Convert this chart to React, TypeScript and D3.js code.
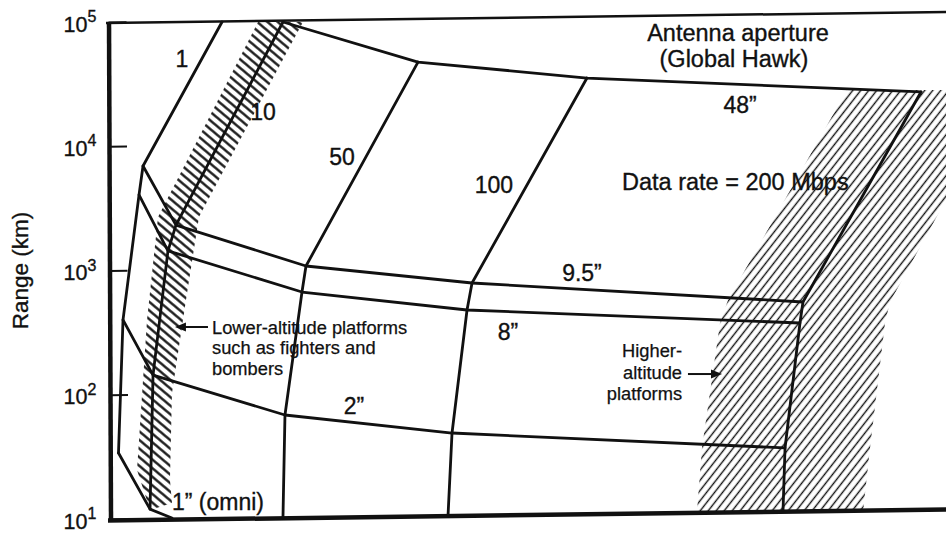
import React, { useEffect, useRef } from "react";
import * as d3 from "d3";

// y: range (km); x: unlabeled position across the diagram (arbitrary units 0-100)
const yTicks = [10, 100, 1000, 10000, 100000];
const yExps = ["1", "2", "3", "4", "5"];

// data-rate curves (Mbps)
const rate1 = [[13.19, 100000], [3.72, 6930], [3.24, 4060], [1.32, 400], [0.78, 34]];
const rate10 = [[20.5, 100000], [7.67, 2320], [6.71, 1440], [4.92, 144], [4.56, 12]];
const rate50 = [[36.69, 47600], [23.26, 1087], [22.78, 671], [20.74, 68.7], [20.5, 10.2]];
const rate100 = [[56.95, 35400], [43.17, 793], [42.57, 481], [40.77, 49.2], [40.29, 10.6]];
const rate200 = [[97.0, 27350], [82.85, 558], [82.49, 378], [80.7, 37.3], [80.46, 11.8]];

// antenna-aperture curves
const ap48 = [[20.5, 100000], [36.69, 47600], [56.95, 35400], [97.0, 27350]];
const ap95 = [[3.72, 6930], [7.67, 2320], [23.26, 1087], [43.17, 793], [82.85, 558]];
const ap8 = [[3.24, 4060], [6.71, 1440], [22.78, 671], [42.57, 481], [82.49, 378]];
const ap2 = [[1.32, 400], [4.92, 144], [20.74, 68.7], [40.77, 49.2], [80.7, 37.3]];
const ap1 = [[0.78, 34], [4.56, 12], [7.19, 10.2]];

// hatched platform regions
const lowAltitude = [
  [17.51, 100000], [5.52, 2696], [4.2, 400], [3.0, 24.8], [4.56, 11.8],
  [7.19, 13.45], [6.95, 20.6], [7.19, 103], [8.87, 579], [10.43, 2696], [22.9, 100000],
];
const highAltitude = [
  [88.13, 28360], [73.86, 579], [72.9, 378], [70.74, 37.3], [70.14, 11.4],
  [90.05, 11.4], [90.89, 37.3], [92.69, 378], [93.29, 558], [107.19, 28360],
];

const curves = [rate1, rate10, rate50, rate100, rate200, ap48, ap95, ap8, ap2, ap1];

// labels in data coordinates
const bigLabels = [
  { t: "1", u: 8.39, v: 43450, a: "middle" },
  { t: "10", u: 18.11, v: 16260, a: "middle" },
  { t: "50", u: 27.58, v: 7063, a: "middle" },
  { t: "100", u: 45.8, v: 4207, a: "middle" },
  { t: "48\u201D", u: 75.3, v: 18530, a: "middle" },
  { t: "9.5\u201D", u: 56.35, v: 823, a: "middle" },
  { t: "8\u201D", u: 47.48, v: 275.8, a: "middle" },
  { t: "2\u201D", u: 29.02, v: 70.0, a: "middle" },
  { t: "1\u201D (omni)", u: 7.19, v: 11.8, a: "start" },
];
const titleLabels = [
  { t: "Data rate = 200 Mbps", u: 61.15, v: 4446, a: "start" },
  { t: "Antenna aperture", u: 75.06, v: 70300, a: "middle" },
  { t: "(Global Hawk)", u: 74.58, v: 43450, a: "middle" },
];
const lowText = ["Lower-altitude platforms", "such as fighters and", "bombers"];
const lowTextPos = { u: 11.99, v: [308, 212.8, 144] };
const lowArrow = { u0: 11.51, u1: 7.55, v: 350.8 };
const highText = ["Higher-", "altitude", "platforms"];
const highTextPos = { u: 68.35, v: [201.4, 134, 90.8] };
const highArrow = { u0: 69.06, u1: 73.14, v: 146.8 };

const FONT = "'Liberation Sans', Arial, Helvetica, sans-serif";
const INK = "#111";

export default function App() {
  const axisRef = useRef<SVGGElement>(null);
  const x = d3.scaleLinear().domain([0, 100]).range([112, 946]);
  const y = d3.scaleLog().domain([10, 1e5]).range([519, 22]);
  const line = d3.line<number[]>().x((d) => x(d[0])).y((d) => y(d[1]));
  const area = (pts: number[][]) => line(pts) + "Z";

  useEffect(() => {
    if (!axisRef.current) return;
    const g = d3.select(axisRef.current);
    g.selectAll("*").remove();
    g.call(
      d3.axisLeft(y).tickValues(yTicks).tickSizeInner(-18).tickSizeOuter(0).tickFormat(() => "")
    );
    g.select(".domain").attr("stroke", INK).attr("stroke-width", 4.5);
    g.selectAll(".tick line").attr("stroke", INK).attr("stroke-width", 2);
  }, []);

  const arrowHead = (xt: number, yt: number, dir: number) => {
    const len = 11, half = 4.5;
    return `M${xt},${yt}L${xt - dir * len},${yt - half}L${xt - dir * len},${yt + half}Z`;
  };

  const skew = `translate(112,519) matrix(1,-0.0132,0.004,1,0,0) translate(-112,-519)`;

  return (
    <svg width={946} height={534} style={{ position: "absolute", left: 0, top: 0, background: "#fff" }} fontFamily={FONT}>
      <defs>
        <pattern id="hatchL" patternUnits="userSpaceOnUse" width={12} height={6.6} patternTransform="rotate(40)">
          <line x1={0} y1={3.3} x2={12} y2={3.3} stroke={INK} strokeWidth={2.3} />
        </pattern>
        <pattern id="hatchR" patternUnits="userSpaceOnUse" width={12} height={6.3} patternTransform="rotate(-52)">
          <line x1={0} y1={3.15} x2={12} y2={3.15} stroke={INK} strokeWidth={1.4} />
        </pattern>
      </defs>
      <rect width={946} height={534} fill="#fff" />

      <path d={area(lowAltitude)} fill="url(#hatchL)" stroke="none" />
      <path d={area(highAltitude)} fill="url(#hatchR)" stroke="none" />

      <g transform={skew}>
        <g ref={axisRef} transform="translate(110.5,0)" />
        <line x1={108} x2={960} y1={y(10) + 1.5} y2={y(10) + 1.5} stroke={INK} strokeWidth={4.5} />
        <line x1={108} x2={960} y1={y(1e5) + 1} y2={y(1e5) + 1} stroke={INK} strokeWidth={2.5} />
      </g>

      {curves.map((c, i) => (
        <path key={i} d={line(c) || ""} fill="none" stroke={INK} strokeWidth={2.8} strokeLinejoin="round" strokeLinecap="round" />
      ))}

      <g stroke={INK} strokeWidth={0.35} fill={INK}>
        {yTicks.map((t, i) => (
          <text key={t} x={63.5} y={y(t) + 9.5}>
            <tspan fontSize={21.5}>10</tspan>
            <tspan fontSize={16} dy={-9.5}>{yExps[i]}</tspan>
          </text>
        ))}
        <text transform={`translate(28,${(y(10) + y(1e5)) / 2}) rotate(-90)`} textAnchor="middle" fontSize={22.5}>
          Range (km)
        </text>

        {bigLabels.map((l) => (
          <text key={l.t} x={x(l.u)} y={y(l.v)} textAnchor={l.a as any} fontSize={23}>{l.t}</text>
        ))}
        {titleLabels.map((l) => (
          <text key={l.t} x={x(l.u)} y={y(l.v)} textAnchor={l.a as any} fontSize={23.5}>{l.t}</text>
        ))}
      </g>

      <g stroke={INK} strokeWidth={0.25} fill={INK}>
        {lowText.map((t, i) => (
          <text key={t} x={x(lowTextPos.u)} y={y(lowTextPos.v[i])} fontSize={18.3}>{t}</text>
        ))}
        {highText.map((t, i) => (
          <text key={t} x={x(highTextPos.u)} y={y(highTextPos.v[i])} textAnchor="end" fontSize={18.3}>{t}</text>
        ))}
      </g>
      <line x1={x(lowArrow.u0)} x2={x(lowArrow.u1) + 8} y1={y(lowArrow.v)} y2={y(lowArrow.v)} stroke={INK} strokeWidth={2} />
      <path d={arrowHead(x(lowArrow.u1), y(lowArrow.v), -1)} fill={INK} />
      <line x1={x(highArrow.u0)} x2={x(highArrow.u1) - 8} y1={y(highArrow.v)} y2={y(highArrow.v)} stroke={INK} strokeWidth={2} />
      <path d={arrowHead(x(highArrow.u1), y(highArrow.v), 1)} fill={INK} />
    </svg>
  );
}
